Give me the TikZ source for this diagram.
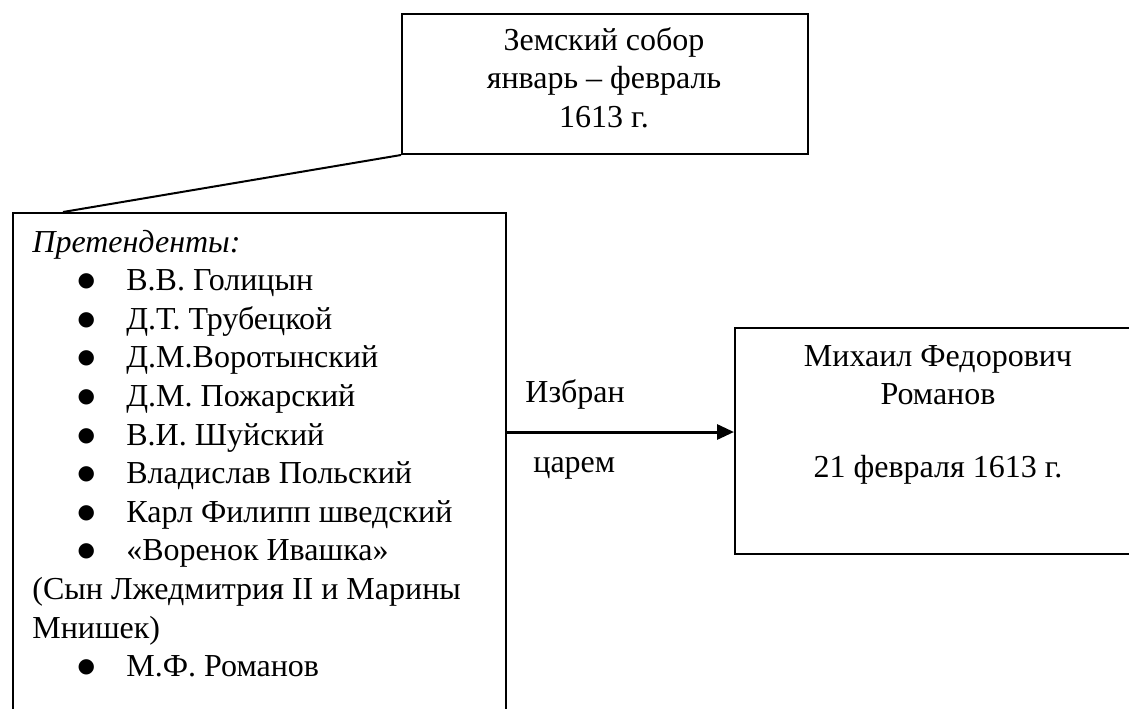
\documentclass[tikz,border=0pt]{standalone}
\usepackage{fontspec}
\setmainfont{Liberation Serif}
\newfontfamily\bulletfont{DejaVu Sans}
\usetikzlibrary{arrows.meta}
\newcommand\candbullet[1]{\hspace*{22.6pt}\makebox[24.4pt][l]{\raisebox{2pt}{\bulletfont\fontsize{10pt}{10pt}\selectfont ●}}#1}
\tikzset{
  frame/.style={draw, line width=1pt, inner sep=0pt, anchor=north west},
  txt/.style={inner sep=0pt, font=\fontsize{16pt}{19.3pt}\selectfont},
  link/.style={line width=1pt},
  arrowlink/.style={line width=1.5pt, -{Triangle[length=8.5pt,width=7.5pt]}},
}
\begin{document}
\begin{tikzpicture}[x=0.5pt,y=-0.5pt]
\useasboundingbox (0,0) rectangle (1129,708);
\clip (0,0) rectangle (1129,708);
% top box
\node[frame, minimum width=203pt, minimum height=70pt] (sobor) at (401,13) {};
\node[txt, anchor=base] (sobortext) at (604,50)
  {\parbox[t]{200pt}{\centering Земский собор\\ январь – февраль\\ 1613 г.}};
% candidates box (open at the bottom edge of the picture)
\node[frame, minimum width=246.5pt, minimum height=300pt] (cand) at (12,212) {};
\node[txt, anchor=base west] (candlist) at (32,252)
  {\parbox[t]{300pt}{\raggedright
    \textit{Претенденты:}\\
    \candbullet{В.В. Голицын}\\
    \candbullet{Д.Т. Трубецкой}\\
    \candbullet{Д.М.Воротынский}\\
    \candbullet{Д.М. Пожарский}\\
    \candbullet{В.И. Шуйский}\\
    \candbullet{Владислав Польский}\\
    \candbullet{Карл Филипп шведский}\\
    \candbullet{«Воренок Ивашка»}\\
    (Сын Лжедмитрия II и Марины\\
    Мнишек)\\
    \candbullet{М.Ф. Романов}}};
% result box
\node[frame, minimum width=204pt, minimum height=113pt] (tsar) at (734,327) {};
\node[txt, anchor=base] (tsartext) at (938,366)
  {\parbox[t]{200pt}{\centering Михаил Федорович\\ Романов\\[17.2pt] 21 февраля 1613 г.}};
% arrow labels
\node[txt, anchor=base west] (izbran) at (525,402) {Избран};
\node[txt, anchor=base west] (tsarem) at (533,472) {царем};
% connectors
\coordinate (candtop) at (63,212);
\draw[link] (sobor.south west) -- (candtop);
\coordinate (arrstart) at (505,432);
\draw[arrowlink] (arrstart) -- (arrstart -| tsar.west);
\end{tikzpicture}
\end{document}
